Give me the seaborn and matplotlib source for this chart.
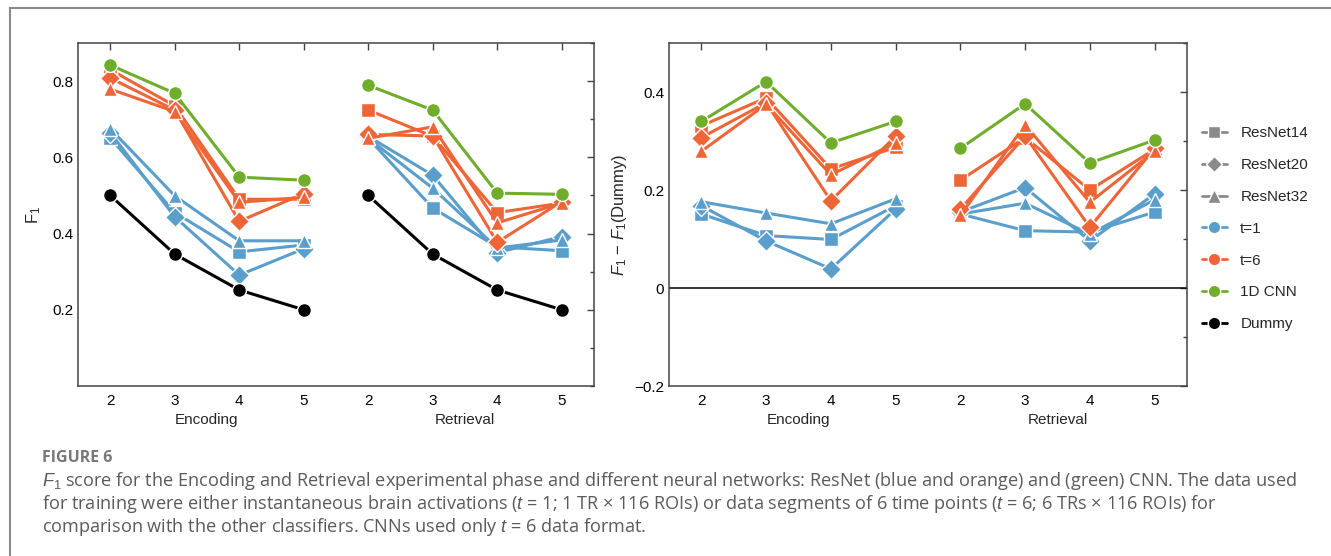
import numpy as np
import pandas as pd
import seaborn as sns
import matplotlib.pyplot as plt
import matplotlib.transforms as mtransforms
from matplotlib.lines import Line2D
from matplotlib.patches import Rectangle
from matplotlib.ticker import MultipleLocator, FuncFormatter

# x categories (number of classes) and experimental phases
n_classes = [2, 3, 4, 5]
phases = ["Encoding", "Retrieval"]
models = ["ResNet14", "ResNet20", "ResNet32"]

# F1 scores (left panel)
f1_enc_t1 = {"ResNet14": [0.651, 0.455, 0.352, 0.370],
             "ResNet20": [0.665, 0.444, 0.291, 0.360],
             "ResNet32": [0.675, 0.499, 0.381, 0.381]}
f1_enc_t6 = {"ResNet14": [0.830, 0.735, 0.490, 0.490],
             "ResNet20": [0.808, 0.724, 0.432, 0.505],
             "ResNet32": [0.779, 0.720, 0.482, 0.495]}
f1_enc_cnn = [0.842, 0.768, 0.548, 0.540]
f1_enc_dummy = [0.500, 0.346, 0.252, 0.200]

f1_ret_t1 = {"ResNet14": [0.650, 0.467, 0.365, 0.355],
             "ResNet20": [0.655, 0.553, 0.350, 0.392],
             "ResNet32": [0.650, 0.519, 0.362, 0.383]}
f1_ret_t6 = {"ResNet14": [0.724, 0.655, 0.455, 0.480],
             "ResNet20": [0.660, 0.656, 0.377, 0.484],
             "ResNet32": [0.650, 0.680, 0.428, 0.480]}
f1_ret_cnn = [0.789, 0.724, 0.506, 0.503]
f1_ret_dummy = [0.500, 0.346, 0.252, 0.200]

# F1 - F1(Dummy) (right panel)
d_enc_t1 = {"ResNet14": [0.151, 0.107, 0.099, 0.168],
            "ResNet20": [0.168, 0.096, 0.039, 0.161],
            "ResNet32": [0.176, 0.153, 0.131, 0.182]}
d_enc_t6 = {"ResNet14": [0.331, 0.388, 0.243, 0.287],
            "ResNet20": [0.307, 0.378, 0.178, 0.310],
            "ResNet32": [0.279, 0.375, 0.231, 0.296]}
d_enc_cnn = [0.340, 0.421, 0.296, 0.340]

d_ret_t1 = {"ResNet14": [0.151, 0.117, 0.114, 0.155],
            "ResNet20": [0.155, 0.205, 0.096, 0.192],
            "ResNet32": [0.151, 0.173, 0.110, 0.180]}
d_ret_t6 = {"ResNet14": [0.220, 0.307, 0.200, 0.283],
            "ResNet20": [0.161, 0.310, 0.124, 0.285],
            "ResNet32": [0.148, 0.333, 0.175, 0.279]}
d_ret_cnn = [0.285, 0.376, 0.255, 0.302]

# colours
C_T1 = "#5a9fcc"
C_T6 = "#ee6537"
C_CNN = "#70ad2b"
C_DUMMY = "#000000"
C_LEG = "#8a8a8a"


def build_frame(t1, t6, cnn, dummy, phase):
    rows = []
    offset = 0 if phase == "Encoding" else 4
    for m in models:
        for i, n in enumerate(n_classes):
            rows.append((phase, n, i + offset, "t=1", m, t1[m][i]))
    for m in models:
        for i, n in enumerate(n_classes):
            rows.append((phase, n, i + offset, "t=6", m, t6[m][i]))
    for i, n in enumerate(n_classes):
        rows.append((phase, n, i + offset, "1D CNN", "CNN", cnn[i]))
    if dummy is not None:
        for i, n in enumerate(n_classes):
            rows.append((phase, n, i + offset, "Dummy", "Dummy", dummy[i]))
    return pd.DataFrame(rows, columns=["phase", "n", "pos", "input", "model", "value"])


left_df = pd.concat([build_frame(f1_enc_t1, f1_enc_t6, f1_enc_cnn, f1_enc_dummy, "Encoding"),
                     build_frame(f1_ret_t1, f1_ret_t6, f1_ret_cnn, f1_ret_dummy, "Retrieval")])
right_df = pd.concat([build_frame(d_enc_t1, d_enc_t6, d_enc_cnn, None, "Encoding"),
                      build_frame(d_ret_t1, d_ret_t6, d_ret_cnn, None, "Retrieval")])

palette = {"t=1": C_T1, "t=6": C_T6, "1D CNN": C_CNN, "Dummy": C_DUMMY}
hue_order = ["t=1", "t=6", "1D CNN", "Dummy"]
marker_map = {"ResNet14": "s", "ResNet20": "D", "ResNet32": "^", "CNN": "o", "Dummy": "o"}

sns.set_theme(style="white")
plt.rcParams["font.family"] = ["Liberation Sans", "DejaVu Sans"]
plt.rcParams["mathtext.fontset"] = "custom"
plt.rcParams["mathtext.rm"] = "Liberation Sans"
plt.rcParams["mathtext.it"] = "Liberation Sans:italic"

fig = plt.figure(figsize=(13.31, 5.56), dpi=100)
W, H = 1331, 556
ax1 = fig.add_axes([78 / W, 1 - 386 / H, 516 / W, 343 / H])
ax2 = fig.add_axes([669 / W, 1 - 386 / H, 518 / W, 343 / H])


def draw(ax, df):
    for ph in phases:
        sub = df[df["phase"] == ph]
        h_order = [h for h in hue_order if h in sub["input"].unique()]
        sns.lineplot(data=sub, x="pos", y="value", hue="input", style="model",
                     hue_order=h_order, palette=palette, markers=marker_map,
                     dashes=False, estimator=None, sort=False, legend=False,
                     linewidth=2.2, markersize=10, markeredgecolor="white",
                     markeredgewidth=1.0, ax=ax)


draw(ax1, left_df)
ax2.axhline(0, color="black", lw=1.1, zorder=1)
draw(ax2, right_df)

for ax in (ax1, ax2):
    ax.set_xlim(-0.5, 7.5)
    ax.set_xticks(range(8))
    ax.set_xticklabels([str(n) for n in n_classes] * 2)
    ax.set_xlabel("")
    ax.tick_params(which="both", direction="in", top=True, right=True,
                   colors="#444444", labelcolor="black", labelsize=11)
    ax.tick_params(which="major", length=5, width=1)
    ax.tick_params(which="minor", length=3, width=1)
    ax.tick_params(axis="x", pad=6)
    for s in ax.spines.values():
        s.set_color("#444444")
        s.set_linewidth(1.1)
    trans = mtransforms.blended_transform_factory(ax.transData, ax.transAxes)
    ax.text(1.5, -0.099, "Encoding", transform=trans, ha="center", va="center", fontsize=11)
    ax.text(5.5, -0.099, "Retrieval", transform=trans, ha="center", va="center", fontsize=11)

fmt = FuncFormatter(lambda v, p: "0" if abs(v) < 1e-9 else f"{v:.1f}".replace("-", "\u2212"))

ax1.set_ylim(0, 0.9)
ax1.yaxis.set_minor_locator(MultipleLocator(0.1))
ax1.set_yticks([0.2, 0.4, 0.6, 0.8])
ax1.yaxis.set_major_formatter(fmt)
ax1.set_ylabel(r"$\mathrm{F}_1$", fontsize=12)
ax1.yaxis.set_label_coords(-0.068, 0.5)

ax2.set_ylim(-0.2, 0.5)
ax2.set_yticks([-0.2, 0.0, 0.2, 0.4])
ax2.yaxis.set_minor_locator(MultipleLocator(0.1))
ax2.yaxis.set_major_formatter(fmt)
ax2.set_ylabel(r"$F_1$ $-$ $F_1$(Dummy)", fontsize=12)
ax2.yaxis.set_label_coords(-0.077, 0.5)

# legend
handles = [
    Line2D([], [], color=C_LEG, marker="s", markersize=9, lw=2, markeredgecolor="white", label="ResNet14"),
    Line2D([], [], color=C_LEG, marker="D", markersize=8, lw=2, markeredgecolor="white", label="ResNet20"),
    Line2D([], [], color=C_LEG, marker="^", markersize=10, lw=2, markeredgecolor="white", label="ResNet32"),
    Line2D([], [], color=C_T1, marker="o", markersize=9, lw=2, markeredgecolor="white", label="t=1"),
    Line2D([], [], color=C_T6, marker="o", markersize=9, lw=2, markeredgecolor="white", label="t=6"),
    Line2D([], [], color=C_CNN, marker="o", markersize=9, lw=2, markeredgecolor="white", label="1D CNN"),
    Line2D([], [], color=C_DUMMY, marker="o", markersize=9, lw=2, markeredgecolor="white", label="Dummy"),
]
fig.legend(handles=handles, loc="upper left", bbox_to_anchor=(1196 / W, 1 - 120 / H),
           frameon=False, fontsize=11, labelspacing=1.17, handlelength=1.6,
           handletextpad=0.9, borderaxespad=0)

# frame around the figure block
fig.add_artist(Rectangle((10 / W, -0.5), 1.5, (1 - 8 / H) + 0.5, transform=fig.transFigure,
                         fill=False, edgecolor="#8a8a8a", lw=1.5))

# caption
cap_font = ["Open Sans", "DejaVu Sans"]
fig.text(42 / W, 1 - 458 / H, "FIGURE 6", color="#777777", fontsize=11.5,
         fontweight="bold", family=cap_font, va="center")
lines = [
    r"$F_1$ score for the Encoding and Retrieval experimental phase and different neural networks: ResNet (blue and orange) and (green) CNN. The data used",
    r"for training were either instantaneous brain activations ($t$ = 1; 1 TR × 116 ROIs) or data segments of 6 time points ($t$ = 6; 6 TRs × 116 ROIs) for",
    r"comparison with the other classifiers. CNNs used only $t$ = 6 data format.",
]
for k, line in enumerate(lines):
    fig.text(42 / W, 1 - (481 + 23 * k) / H, line, color="#5a5a5a", fontsize=13.1,
             family=cap_font, va="center")

fig.savefig("out.png", dpi=100)
